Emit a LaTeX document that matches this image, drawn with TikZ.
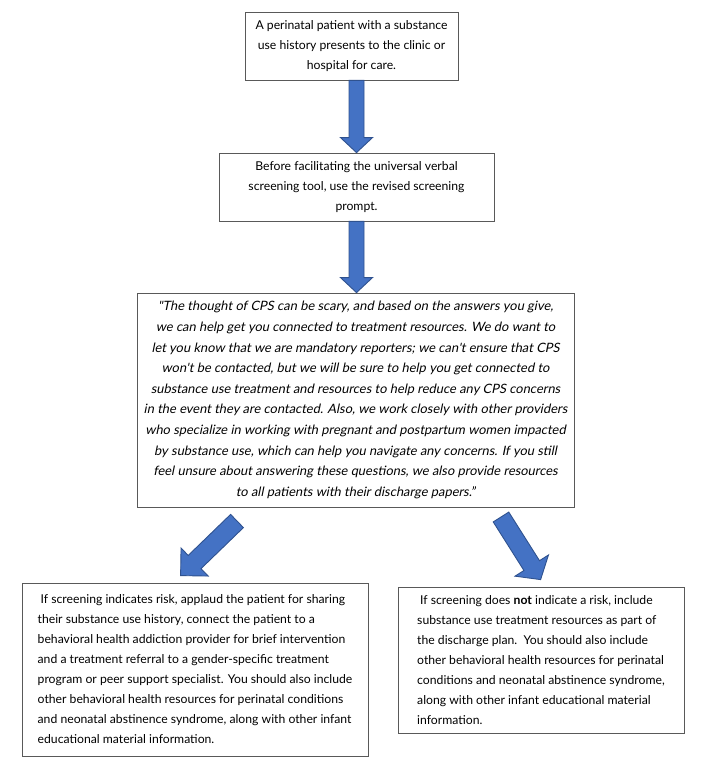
\documentclass[tikz,border=0pt]{standalone}
\usepackage{fontspec}
\setmainfont{Lato}
\newfontfamily\quotefont[FakeSlant=0.2]{Lato}
\usetikzlibrary{calc}
\usetikzlibrary{positioning}

\definecolor{arrowblue}{HTML}{4472C4}
\definecolor{arrowedge}{HTML}{2F528F}

\begin{document}
\begin{tikzpicture}[x=1pt,y=-1pt,
		stepbox/.style={draw=black!65, line width=0.8pt, inner sep=0pt, font=\fontsize{12.2}{20}\selectfont},
		fatarrow/.style={fill=arrowblue, draw=arrowedge, line width=0.9pt, line join=miter}]
	\useasboundingbox (0,0) rectangle (710,768);
	
	% #1 tail, #2 tip, #3 half shaft, #4 half head, #5 head length
	\def\blockarrow#1#2#3#4#5{
		\coordinate (hb) at ($(#2)!#5!(#1)$);
		\draw[fatarrow] ($(#1)!#3!90:(#2)$) -- ($(hb)!#3!90:(#2)$) -- ($(hb)!#4!90:(#2)$) -- (#2)
			-- ($(hb)!#4!-90:(#2)$) -- ($(hb)!#3!-90:(#2)$) -- ($(#1)!#3!-90:(#2)$) -- cycle;
	}
	
	\node[stepbox, minimum width=213pt, minimum height=68pt, align=center] (p1) at (351.5,46)
		{A perinatal patient with a substance\\ use history presents to the clinic or\\ hospital for care.};
	\node[stepbox, minimum width=275pt, minimum height=68pt, align=center] (p2) at (356.5,187)
		{Before facilitating the universal verbal\\ screening tool, use the revised screening\\ prompt.};
	\node[stepbox, minimum width=437pt, minimum height=214pt, align=center, font=\fontsize{12.9}{20.6}\selectfont\quotefont] (p3) at (355.5,400)
		{\textquotedbl The thought of CPS can be scary, and based on the answers you give,\\
		we can help get you connected to treatment resources. We do want to\\
		let you know that we are mandatory reporters; we can\textquotesingle t ensure that CPS\\
		won\textquotesingle t be contacted, but we will be sure to help you get connected to\\
		substance use treatment and resources to help reduce any CPS concerns\\
		in the event they are contacted. Also, we work closely with other providers\\
		who specialize in working with pregnant and postpartum women impacted\\
		by substance use, which can help you navigate any concerns. If you still\\
		feel unsure about answering these questions, we also provide resources\\
		to all patients with their discharge papers.”};
	\node[stepbox, minimum width=346pt, minimum height=173pt, align=left] (risk) at (195,669.5)
		{\hspace{3pt}If screening indicates risk, applaud the patient for sharing\\
		their substance use history, connect the patient to a\\
		behavioral health addiction provider for brief intervention\\
		and a treatment referral to a gender-specific treatment\\
		program or peer support specialist. You should also include\\
		other behavioral health resources for perinatal conditions\\
		and neonatal abstinence syndrome, along with other infant\\
		educational material information.};
	\node[stepbox, minimum width=286pt, minimum height=146pt, align=left] (norisk) at (541,660)
		{\hspace{3pt}If screening does \textbf{not} indicate a risk, include\\
		substance use treatment resources as part of\\
		the discharge plan.\ \ You should also include\\
		other behavioral health resources for perinatal\\
		conditions and neonatal abstinence syndrome,\\
		along with other infant educational material\\
		information.};
	
	\coordinate (tl) at (237,521);
	\coordinate (tr) at (501,517);
	\coordinate (riskTip) at ($(risk.north west)+(159,-7)$);
	\coordinate (noriskTip) at ($(norisk.north west)+(143,-7)$);
	
	\blockarrow{p1.south -| p2.north}{p2.north}{7.5pt}{16pt}{15pt}
	\blockarrow{p2.south}{p2.south |- p3.north}{7.5pt}{16pt}{15pt}
	\blockarrow{tl}{riskTip}{9.2pt}{19.5pt}{19.5pt}
	\blockarrow{tr}{noriskTip}{9.2pt}{19.8pt}{16.6pt}
\end{tikzpicture}
\end{document}
